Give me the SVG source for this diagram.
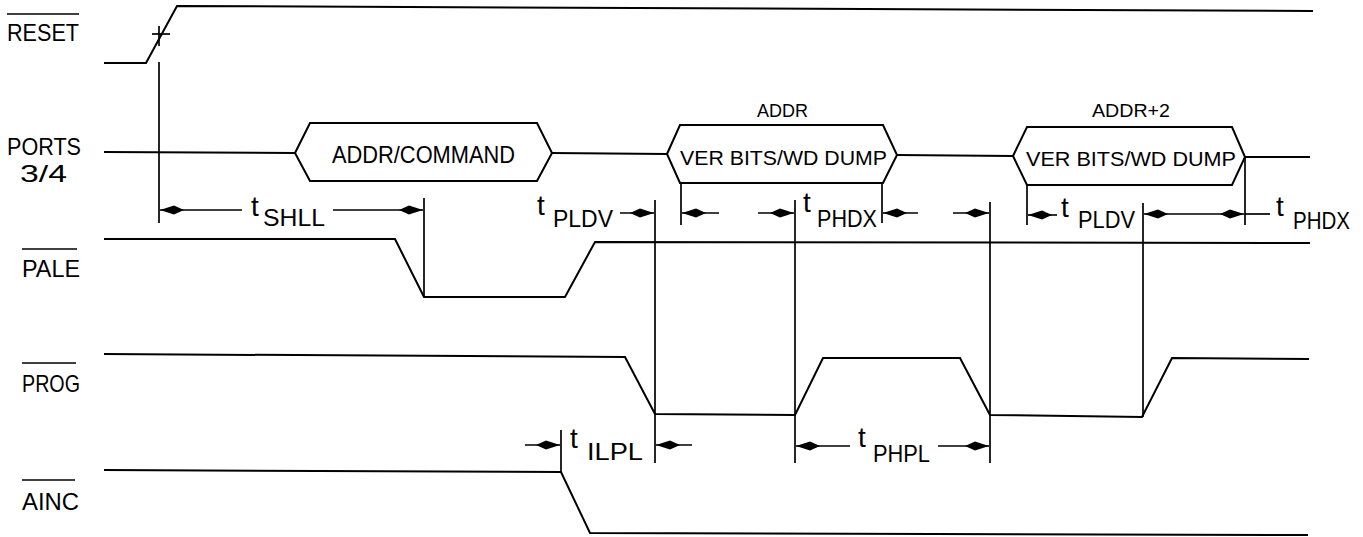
<svg xmlns="http://www.w3.org/2000/svg" width="1363" height="537" viewBox="0 0 1363 537">
<style>
.sig{fill:none;stroke:#000;stroke-width:2;stroke-linejoin:miter}
.vl{fill:none;stroke:#000;stroke-width:1.7}
.ar{fill:none;stroke:#000;stroke-width:1.6;marker-end:url(#ah)}
.lbl{font-family:"Liberation Sans",Arial,sans-serif;font-size:24px;fill:#000}
.box{font-family:"Liberation Sans",Arial,sans-serif;font-size:21px;fill:#000}
.tt{font-family:"Liberation Sans",Arial,sans-serif;font-size:28px;fill:#000}
.sub{font-family:"Liberation Sans",Arial,sans-serif;font-size:24px;fill:#000}
.sm{font-family:"Liberation Sans",Arial,sans-serif;font-size:19px;fill:#000}
</style>
<defs>
<marker id="ah" markerUnits="userSpaceOnUse" markerWidth="28" markerHeight="12" refX="25" refY="5" orient="auto" overflow="visible">
<path d="M1,5 L11,0.5 L25,5 L11,9.5 Z" fill="#000"/>
</marker>
</defs>
<rect width="1363" height="537" fill="#fff"/>

<g id="labels">
<line x1="7" y1="14" x2="79" y2="14" class="vl"/>
<text class="lbl" x="7" y="41" textLength="72" lengthAdjust="spacingAndGlyphs">RESET</text>
<text class="lbl" x="7" y="155" textLength="74" lengthAdjust="spacingAndGlyphs">PORTS</text>
<text class="lbl" x="20" y="182" textLength="47" lengthAdjust="spacingAndGlyphs">3/4</text>
<line x1="22" y1="249" x2="77" y2="249" class="vl"/>
<text class="lbl" x="22" y="277" textLength="58" lengthAdjust="spacingAndGlyphs">PALE</text>
<line x1="22" y1="363" x2="76" y2="363" class="vl"/>
<text class="lbl" x="22" y="392" textLength="58" lengthAdjust="spacingAndGlyphs">PROG</text>
<line x1="22" y1="480" x2="75" y2="480" class="vl"/>
<text class="lbl" x="22" y="510" textLength="57" lengthAdjust="spacingAndGlyphs">AINC</text>
</g>

<g id="reset">
<polyline class="sig" points="104,63 146,63 177,6 1313,11"/>
<line class="vl" x1="152" y1="34" x2="170" y2="34"/>
<line class="vl" x1="159" y1="26" x2="159" y2="46"/>
</g>

<g id="ports">
<polyline class="sig" points="104,152 295,153"/>
<polygon class="sig" points="295,153 310,123 537,123 552,153 537,181 310,181"/>
<text class="lbl" x="332" y="163" textLength="183" lengthAdjust="spacingAndGlyphs">ADDR/COMMAND</text>
<polyline class="sig" points="552,153 667,154"/>
<polygon class="sig" points="667,154 680,125 883,125 897,155 883,183 680,183"/>
<text class="box" x="680" y="165" textLength="207" lengthAdjust="spacingAndGlyphs">VER BITS/WD DUMP</text>
<text class="sm" x="757" y="117" textLength="51" lengthAdjust="spacingAndGlyphs">ADDR</text>
<polyline class="sig" points="897,155 1013,156"/>
<polygon class="sig" points="1013,156 1027,127 1232,127 1245,157 1232,185 1027,185"/>
<text class="box" x="1026" y="166" textLength="210" lengthAdjust="spacingAndGlyphs">VER BITS/WD DUMP</text>
<text class="sm" x="1092" y="117" textLength="78" lengthAdjust="spacingAndGlyphs">ADDR+2</text>
<polyline class="sig" points="1245,157 1310,157"/>
</g>

<g id="pale">
<polyline class="sig" points="104,239 395,239 424,297 565,297 595,242 1310,243"/>
</g>

<g id="prog">
<polyline class="sig" points="104,354 625,357 655,414 795,415 823,358 960,358 990,415 1142,417 1172,358 1309,359"/>
</g>

<g id="ainc">
<polyline class="sig" points="104,470 561,472 590,533 1308,535"/>
</g>

<g id="connectors">
<line class="vl" x1="159" y1="62" x2="159" y2="223"/>
<line class="vl" x1="424" y1="198" x2="424" y2="297"/>
<line class="vl" x1="655" y1="200" x2="655" y2="463"/>
<line class="vl" x1="681" y1="183" x2="681" y2="225"/>
<line class="vl" x1="795" y1="200" x2="795" y2="463"/>
<line class="vl" x1="882" y1="183" x2="882" y2="223"/>
<line class="vl" x1="990" y1="202" x2="990" y2="463"/>
<line class="vl" x1="1027" y1="185" x2="1027" y2="225"/>
<line class="vl" x1="1143" y1="203" x2="1143" y2="417"/>
<line class="vl" x1="1245" y1="157" x2="1245" y2="225"/>
<line class="vl" x1="561" y1="430" x2="561" y2="472"/>

<line class="ar" x1="242" y1="210" x2="160" y2="210"/>
<line class="ar" x1="333" y1="210" x2="423" y2="210"/>
<line class="ar" x1="620" y1="213" x2="654" y2="213"/>
<line class="ar" x1="719" y1="213" x2="682" y2="213"/>
<line class="ar" x1="758" y1="213" x2="794" y2="213"/>
<line class="ar" x1="918" y1="213" x2="883" y2="213"/>
<line class="ar" x1="953" y1="213" x2="989" y2="213"/>
<line class="ar" x1="1057" y1="215" x2="1028" y2="215"/>
<line class="ar" x1="1194" y1="214" x2="1144" y2="214"/>
<line class="ar" x1="1194" y1="214" x2="1244" y2="214"/>
<line class="vl" x1="1245" y1="214" x2="1270" y2="214"/>
<line class="ar" x1="525" y1="445" x2="560" y2="445"/>
<line class="ar" x1="692" y1="445" x2="656" y2="445"/>
<line class="ar" x1="850" y1="446" x2="796" y2="446"/>
<line class="ar" x1="938" y1="446" x2="989" y2="446"/>
</g>

<g id="timing">
<text class="tt" x="251" y="216">t</text><text class="sub" x="263" y="226" textLength="62" lengthAdjust="spacingAndGlyphs">SHLL</text>
<text class="tt" x="537" y="215">t</text><text class="sub" x="553" y="227" textLength="60" lengthAdjust="spacingAndGlyphs">PLDV</text>
<text class="tt" x="803" y="212">t</text><text class="sub" x="817" y="227" textLength="60" lengthAdjust="spacingAndGlyphs">PHDX</text>
<text class="tt" x="1061" y="217">t</text><text class="sub" x="1078" y="228" textLength="57" lengthAdjust="spacingAndGlyphs">PLDV</text>
<text class="tt" x="1276" y="216">t</text><text class="sub" x="1293" y="229" textLength="57" lengthAdjust="spacingAndGlyphs">PHDX</text>
<text class="tt" x="570" y="448">t</text><text class="sub" x="587" y="460" textLength="56" lengthAdjust="spacingAndGlyphs">ILPL</text>
<text class="tt" x="858" y="447">t</text><text class="sub" x="873" y="462" textLength="57" lengthAdjust="spacingAndGlyphs">PHPL</text>
</g>
</svg>
